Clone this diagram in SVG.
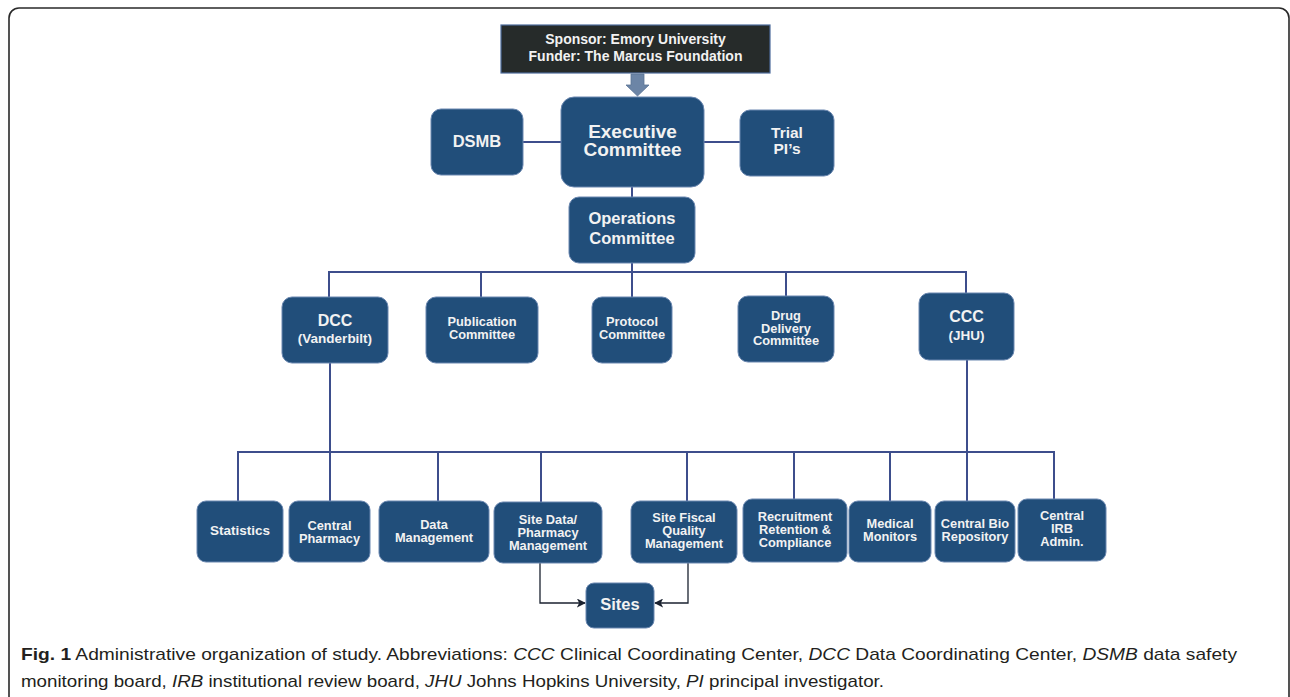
<svg xmlns="http://www.w3.org/2000/svg" width="1290" height="697" viewBox="0 0 1290 697">
<style>
.n{fill:#214e7a;stroke:#6a87b0;stroke-width:1}
.t{font-family:"Liberation Sans",Arial,sans-serif;font-weight:bold;fill:#f2f2f2;text-anchor:middle}
.s{font-size:12.8px}
.c{fill:none;stroke:#3d4e8c;stroke-width:2}
.a{fill:none;stroke:#1b2230;stroke-width:1.3}
.cap{font-family:"Liberation Sans",Arial,sans-serif;font-size:17px;fill:#231f20}
</style>
<defs>
<marker id="ah" viewBox="0 0 10 10" refX="9" refY="5" markerWidth="9" markerHeight="9" markerUnits="userSpaceOnUse" orient="auto">
<path d="M0,0 L10,5 L0,10 L2.5,5 Z" fill="#1b2230"/>
</marker>
</defs>
<rect x="0" y="0" width="1290" height="697" fill="#ffffff"/>
<rect x="9" y="8" width="1280" height="720" rx="10" fill="none" stroke="#2a2a2a" stroke-width="1.6"/>

<g id="connectors">
<line class="c" x1="523" y1="142" x2="561" y2="142"/>
<line class="c" x1="704" y1="142" x2="740" y2="142"/>
<line class="c" x1="632" y1="187" x2="632" y2="197"/>
<line class="c" x1="632" y1="263" x2="632" y2="297"/>
<polyline class="c" points="329,297 329,272 966,272 966,293"/>
<line class="c" x1="481" y1="272" x2="481" y2="297"/>
<line class="c" x1="786" y1="272" x2="786" y2="296"/>
<line class="c" x1="330" y1="363" x2="330" y2="501"/>
<line class="c" x1="967" y1="360" x2="967" y2="501"/>
<polyline class="c" points="238,501 238,452 1054,452 1054,499"/>
<line class="c" x1="438" y1="452" x2="438" y2="501"/>
<line class="c" x1="541" y1="452" x2="541" y2="502"/>
<line class="c" x1="687" y1="452" x2="687" y2="501"/>
<line class="c" x1="794" y1="452" x2="794" y2="499"/>
<line class="c" x1="890" y1="452" x2="890" y2="501"/>
<polyline class="a" points="540,563 540,603 585,603" marker-end="url(#ah)"/>
<polyline class="a" points="688,563 688,603 655,603" marker-end="url(#ah)"/>
</g>

<g id="sponsor">
<rect x="501" y="25" width="269" height="48" fill="#262b2a" stroke="#4d6c9c" stroke-width="1.2"/>
<text class="t" x="635.5" y="44" font-size="14">Sponsor: Emory University</text>
<text class="t" x="635.5" y="61" font-size="14">Funder: The Marcus Foundation</text>
</g>
<g id="sponsor-arrow">
<path d="M631,74 H644 V85 H649 L637.5,96 L626,85 H631 Z" fill="#6c85a6" stroke="#5a7396" stroke-width="0.8"/>
</g>

<g id="exec">
<rect class="n" x="561" y="97" width="143" height="90" rx="13"/>
<text class="t" x="632.5" y="137.5" font-size="19">Executive</text>
<text class="t" x="632.5" y="156" font-size="19">Committee</text>
</g>
<g id="dsmb">
<rect class="n" x="431" y="109" width="92" height="66" rx="10"/>
<text class="t" x="477" y="147" font-size="16.5">DSMB</text>
</g>
<g id="trialpi">
<rect class="n" x="740" y="110" width="94" height="66" rx="10"/>
<text class="t" x="787" y="138" font-size="15.5">Trial</text>
<text class="t" x="787" y="154" font-size="15.5">PI’s</text>
</g>
<g id="ops">
<rect class="n" x="569" y="197" width="126" height="66" rx="10"/>
<text class="t" x="632" y="224" font-size="16.5">Operations</text>
<text class="t" x="632" y="244" font-size="16.5">Committee</text>
</g>

<g id="dcc">
<rect class="n" x="282" y="297" width="106" height="66" rx="10"/>
<text class="t" x="335" y="326" font-size="16">DCC</text>
<text class="t" x="335" y="343" font-size="13.5">(Vanderbilt)</text>
</g>
<g id="publication">
<rect class="n" x="426" y="297" width="112" height="66" rx="10"/>
<text class="t s" x="482" y="326">Publication</text>
<text class="t s" x="482" y="339">Committee</text>
</g>
<g id="protocol">
<rect class="n" x="592" y="297" width="80" height="66" rx="10"/>
<text class="t s" x="632" y="326">Protocol</text>
<text class="t s" x="632" y="339">Committee</text>
</g>
<g id="drug">
<rect class="n" x="738" y="296" width="96" height="66" rx="10"/>
<text class="t s" x="786" y="320">Drug</text>
<text class="t s" x="786" y="332.5">Delivery</text>
<text class="t s" x="786" y="345">Committee</text>
</g>
<g id="ccc">
<rect class="n" x="919" y="293" width="95" height="67" rx="10"/>
<text class="t" x="966.5" y="322" font-size="16">CCC</text>
<text class="t" x="966.5" y="340" font-size="13.5">(JHU)</text>
</g>

<g id="statistics">
<rect class="n" x="197" y="501" width="86" height="61" rx="9"/>
<text class="t" x="240" y="535" font-size="13.5">Statistics</text>
</g>
<g id="central-pharmacy">
<rect class="n" x="289" y="501" width="81" height="61" rx="9"/>
<text class="t s" x="329.5" y="530">Central</text>
<text class="t s" x="329.5" y="543">Pharmacy</text>
</g>
<g id="data-management">
<rect class="n" x="379" y="501" width="110" height="61" rx="9"/>
<text class="t s" x="434" y="529">Data</text>
<text class="t s" x="434" y="542">Management</text>
</g>
<g id="site-data">
<rect class="n" x="494" y="502" width="108" height="61" rx="9"/>
<text class="t s" x="548" y="524">Site Data/</text>
<text class="t s" x="548" y="537">Pharmacy</text>
<text class="t s" x="548" y="550">Management</text>
</g>
<g id="site-fiscal">
<rect class="n" x="631" y="501" width="106" height="62" rx="9"/>
<text class="t s" x="684" y="522">Site Fiscal</text>
<text class="t s" x="684" y="535">Quality</text>
<text class="t s" x="684" y="548">Management</text>
</g>
<g id="recruitment">
<rect class="n" x="743" y="499" width="104" height="63" rx="9"/>
<text class="t s" x="795" y="521">Recruitment</text>
<text class="t s" x="795" y="534">Retention &amp;</text>
<text class="t s" x="795" y="547">Compliance</text>
</g>
<g id="medical-monitors">
<rect class="n" x="849" y="501" width="82" height="61" rx="9"/>
<text class="t s" x="890" y="528">Medical</text>
<text class="t s" x="890" y="541">Monitors</text>
</g>
<g id="central-bio">
<rect class="n" x="935" y="501" width="80" height="61" rx="9"/>
<text class="t s" x="975" y="527.5">Central Bio</text>
<text class="t s" x="975" y="540.5">Repository</text>
</g>
<g id="central-irb">
<rect class="n" x="1018" y="499" width="88" height="62" rx="9"/>
<text class="t s" x="1062" y="520">Central</text>
<text class="t s" x="1062" y="533">IRB</text>
<text class="t s" x="1062" y="546">Admin.</text>
</g>
<g id="sites">
<rect class="n" x="586" y="583" width="68" height="45" rx="8"/>
<text class="t" x="620" y="609.5" font-size="16.5">Sites</text>
</g>

<g id="caption">
<text class="cap" x="21" y="660" textLength="1216" lengthAdjust="spacingAndGlyphs"><tspan font-weight="bold">Fig. 1</tspan> Administrative organization of study. Abbreviations: <tspan font-style="italic">CCC</tspan> Clinical Coordinating Center, <tspan font-style="italic">DCC</tspan> Data Coordinating Center, <tspan font-style="italic">DSMB</tspan> data safety</text>
<text class="cap" x="21" y="687" textLength="863" lengthAdjust="spacingAndGlyphs">monitoring board, <tspan font-style="italic">IRB</tspan> institutional review board, <tspan font-style="italic">JHU</tspan> Johns Hopkins University, <tspan font-style="italic">PI</tspan> principal investigator.</text>
</g>
</svg>
